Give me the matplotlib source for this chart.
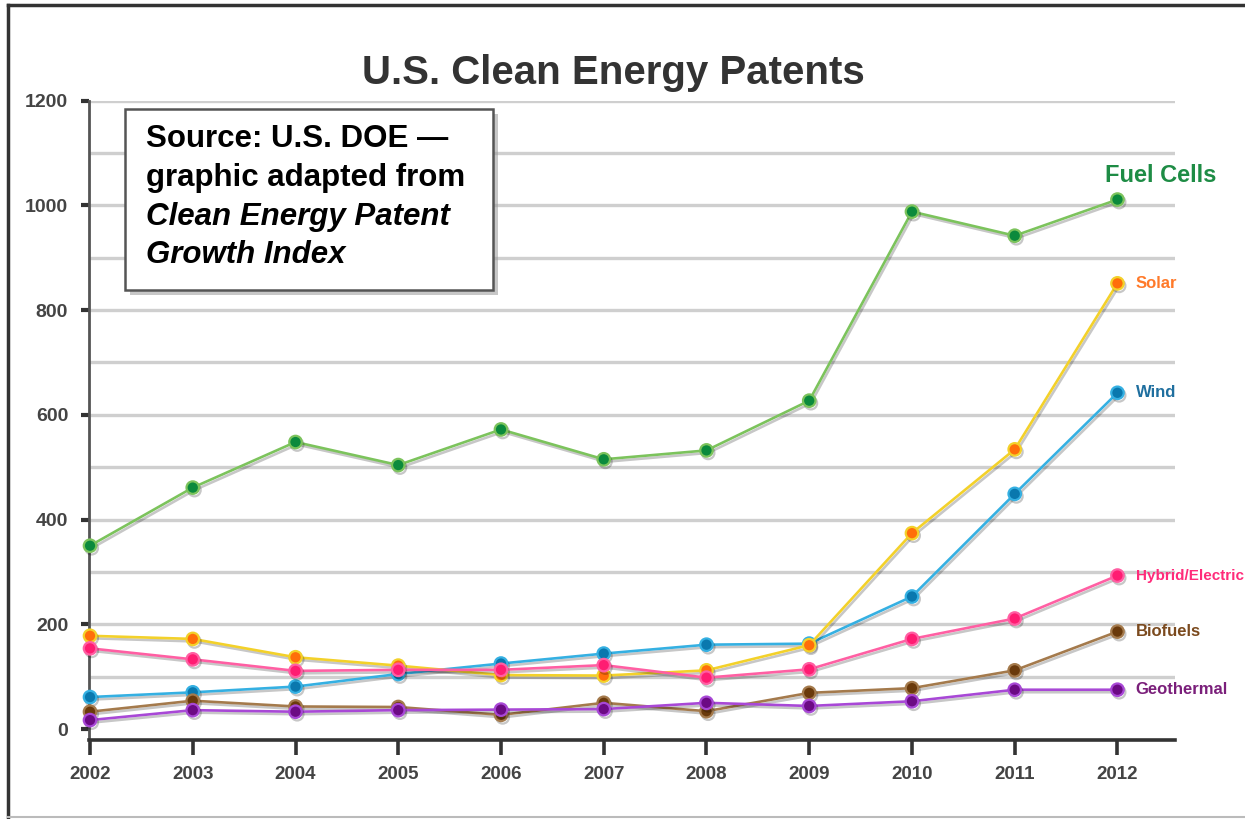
import matplotlib
matplotlib.use('Agg')
import matplotlib.pyplot as plt
import matplotlib.patheffects as pe
from matplotlib.patches import Rectangle
from matplotlib.lines import Line2D
from matplotlib.ticker import MultipleLocator

plt.rcParams['font.family'] = ['Liberation Sans', 'DejaVu Sans']

# data (patents per year)
years = [2002, 2003, 2004, 2005, 2006, 2007, 2008, 2009, 2010, 2011, 2012]
fuel_cells = [350, 461, 548, 504, 572, 515, 532, 627, 988, 942, 1011]
solar = [178, 172, 137, 121, 103, 102, 112, 160, 374, 534, 851]
wind = [61, 70, 81, 105, 125, 144, 161, 163, 253, 449, 642]
hybrid = [154, 133, 111, 113, 113, 122, 98, 114, 172, 211, 293]
biofuels = [33, 54, 43, 42, 27, 50, 34, 69, 78, 112, 186]
geothermal = [17, 36, 33, 36, 37, 38, 50, 44, 53, 75, 75]

yticks = [0, 200, 400, 600, 800, 1000, 1200]

# name, values, line colour, marker colour, label colour
series = [
    ('Fuel Cells', fuel_cells, '#7cc35c', '#0b8a3c', '#1e8c45'),
    ('Wind', wind, '#35b0e2', '#0a78ae', '#1f6f9f'),
    ('Solar', solar, '#f3d12a', '#ff6e0a', '#ff7a2a'),
    ('Biofuels', biofuels, '#a47a4c', '#6a3a0c', '#7b4a1e'),
    ('Geothermal', geothermal, '#a848d6', '#6c0a84', '#7a1f7a'),
    ('Hybrid/Electric', hybrid, '#ff5fa3', '#ff1c72', '#ff2b7a'),
]

fig = plt.figure(figsize=(12.45, 8.19), dpi=100)
ax = fig.add_axes([89 / 1245, 1 - 740 / 819, 1086 / 1245, 639.4 / 819])

shadow = [pe.SimpleLineShadow(offset=(1.2, -1.8), alpha=0.22), pe.Normal()]
for name, vals, lc, mc, tc in series:
    ax.plot(years, vals, color=lc, lw=1.9, marker='o', ms=9,
            mfc=mc, mec=lc, mew=1.6, path_effects=shadow, zorder=3,
            clip_on=False)

# labels at the line ends
ax.annotate('Fuel Cells', (years[-1], fuel_cells[-1]), xytext=(-9, 17),
            textcoords='offset points', color='#1e8c45', fontsize=17,
            fontweight='bold', va='center', ha='left', annotation_clip=False)
for name, vals, lc, mc, tc in series[1:]:
    fs = 11 if name == 'Hybrid/Electric' else 12
    ax.annotate(name, (years[-1], vals[-1]), xytext=(13, 0),
                textcoords='offset points', color=tc, fontsize=fs,
                fontweight='bold', va='center', ha='left',
                annotation_clip=False)

ax.set_xlim(2001.99, 2012.56)
ax.set_ylim(-21, 1200)
ax.set_xticks(years)
ax.set_yticks(yticks)
ax.yaxis.set_minor_locator(MultipleLocator(100))
ax.grid(True, which='both', axis='y', color='#cfcfcf', lw=2.4, zorder=0)
ax.set_axisbelow(True)
# no grid line at zero, the axis line sits there
ax.yaxis.get_gridlines()[0].set_visible(False)

for s in ['top', 'right']:
    ax.spines[s].set_visible(False)
ax.spines['left'].set_color('#555555')
ax.spines['left'].set_linewidth(2)
ax.spines['bottom'].set_color('#333333')
ax.spines['bottom'].set_linewidth(2.6)

ax.tick_params(axis='y', which='major', length=6, width=3, color='#333333',
               pad=9, labelsize=14, labelcolor='#444444')
ax.tick_params(axis='y', which='minor', length=0)
ax.tick_params(axis='x', length=11, width=2.6, color='#333333', pad=8,
               labelsize=13.5, labelcolor='#444444')
for lab in ax.get_xticklabels() + ax.get_yticklabels():
    lab.set_fontweight('bold')

fig.text(0.493, 1 - 73 / 819, 'U.S. Clean Energy Patents', ha='center',
         va='center', fontsize=29, fontweight='bold', color='#333333')

# source box with drop shadow
bx, by, bw, bh = 125 / 1245, 1 - 290 / 819, 368 / 1245, 181 / 819
fig.add_artist(Rectangle((bx + 5 / 1245, by - 5 / 819), bw, bh,
                         transform=fig.transFigure, facecolor='#9a9a9a',
                         edgecolor='none', alpha=0.55, zorder=4))
fig.add_artist(Rectangle((bx, by), bw, bh, transform=fig.transFigure,
                         facecolor='white', edgecolor='#555555', lw=1.8,
                         zorder=5))
src_lines = [('Source: U.S. DOE \u2014', 'normal', 139),
             ('graphic adapted from', 'normal', 178),
             ('Clean Energy Patent', 'italic', 217),
             ('Growth Index', 'italic', 255)]
for txt, style, ypx in src_lines:
    fig.text(146 / 1245, 1 - ypx / 819, txt, fontsize=22.5, fontweight='bold',
             fontstyle=style, color='black', va='center', ha='left', zorder=6)

# outer frame of the graphic
fig.add_artist(Line2D([8 / 1245, 8 / 1245], [0, 1 - 5 / 819],
                      transform=fig.transFigure, color='#333333', lw=2.5))
fig.add_artist(Line2D([8 / 1245, 1], [1 - 5 / 819, 1 - 5 / 819],
                      transform=fig.transFigure, color='#333333', lw=2.5))
fig.add_artist(Line2D([8 / 1245, 1], [1 - 817 / 819, 1 - 817 / 819],
                      transform=fig.transFigure, color='#bbbbbb', lw=1.5))

plt.savefig('out.png', dpi=100)
